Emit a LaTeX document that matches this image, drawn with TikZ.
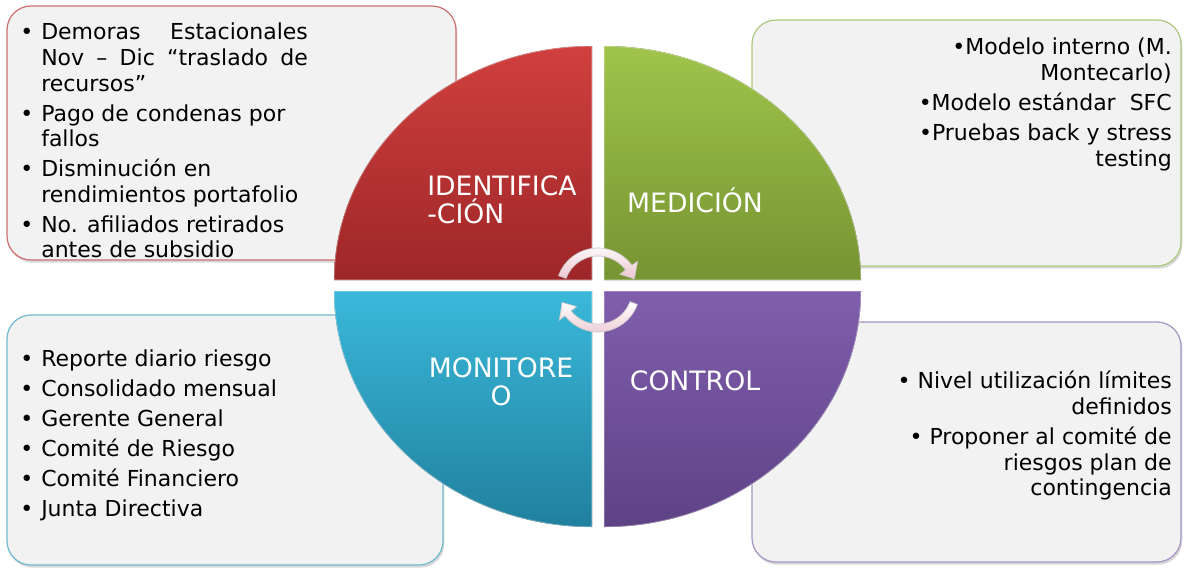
\documentclass[tikz,border=0pt]{standalone}
\usepackage{fontspec}
\setmainfont{DejaVu Sans}
\usetikzlibrary{shadows,positioning}

\definecolor{boxfill}{RGB}{242,242,242}
\definecolor{redline}{RGB}{204,112,112}
\definecolor{greenline}{RGB}{172,200,124}
\definecolor{blueline}{RGB}{112,186,206}
\definecolor{purpleline}{RGB}{166,148,196}
\definecolor{redtop}{RGB}{208,64,62}
\definecolor{redbot}{RGB}{158,38,40}
\definecolor{greentop}{RGB}{160,196,75}
\definecolor{greenbot}{RGB}{118,148,50}
\definecolor{bluetop}{RGB}{58,184,218}
\definecolor{bluebot}{RGB}{32,128,158}
\definecolor{purpletop}{RGB}{128,94,172}
\definecolor{purplebot}{RGB}{94,66,134}
\definecolor{arrowpink}{RGB}{236,198,208}

\newcommand{\itm}{\llap{\textbullet\hspace{6pt}}}

\begin{document}
\begin{tikzpicture}[x=0.75pt, y=-0.75pt,
    infobox/.style={fill=boxfill, rounded corners=18pt, line width=0.9pt,
      drop shadow={shadow xshift=1pt, shadow yshift=-2pt, opacity=0.3}},
    boxtext/.style={font=\fontsize{16.5}{19.2}\selectfont, inner sep=0pt},
    quadlabel/.style={text=white, font=\fontsize{20}{21}\selectfont, inner sep=0pt},
    quad/.style={draw=white, draw opacity=0.35, line width=1pt},
    cycarrow/.style={draw=gray!45, line width=0.5pt, top color=white, bottom color=arrowpink}]
  \useasboundingbox (0,0) rectangle (1186,571);
  \fill[white] (0,0) rectangle (1186,571);

  % boxes behind the circle
  \draw[infobox, draw=redline] (7,6) rectangle (456,260);
  \draw[infobox, draw=greenline] (752,20) rectangle (1181,266);
  \draw[infobox, draw=blueline] (7,315) rectangle (443,565);
  \draw[infobox, draw=purpleline] (752,322) rectangle (1181,562);

  % four quadrants
  \fill[quad, top color=redtop, bottom color=redbot]
    (592,280) -- (334,280) arc[start angle=180, end angle=270, x radius=258, y radius=234] -- cycle;
  \fill[quad, top color=greentop, bottom color=greenbot]
    (604,280) -- (604,46) arc[start angle=270, end angle=360, x radius=257, y radius=234] -- cycle;
  \fill[quad, top color=purpletop, bottom color=purplebot]
    (604,291) -- (861,291) arc[start angle=0, end angle=90, x radius=257, y radius=236] -- cycle;
  \fill[quad, top color=bluetop, bottom color=bluebot]
    (592,291) -- (592,527) arc[start angle=90, end angle=180, x radius=258, y radius=236] -- cycle;

  % cycle arrows
  \coordinate (cyc) at (598,290);
  \path[cycarrow] ([shift={(-160:42)}]cyc) arc[start angle=-160, end angle=-36, radius=42]
    -- ([shift={(-36:49)}]cyc) -- ([shift={(-17:38)}]cyc) -- ([shift={(-36:27)}]cyc)
    -- ([shift={(-36:34)}]cyc) arc[start angle=-36, end angle=-160, radius=34] -- cycle;
  \path[cycarrow] ([shift={(20:42)}]cyc) arc[start angle=20, end angle=142, radius=42]
    -- ([shift={(142:49)}]cyc) -- ([shift={(161:38)}]cyc) -- ([shift={(142:27)}]cyc)
    -- ([shift={(142:34)}]cyc) arc[start angle=142, end angle=20, radius=34] -- cycle;

  % labels of the quadrants
  \node[quadlabel, align=left] (ident) at (502,200) {IDENTIFICA\\-CIÓN};
  \node[quadlabel] (medic) at (695,200) {MEDICIÓN};
  \node[quadlabel, align=center] (monit) at (501,382) {MONITORE\\O};
  \node[quadlabel] (contr) at (695,381) {CONTROL};

  % texts of the boxes
  \node[boxtext, anchor=north west, align=left] (identtext) at (41,23) {%
    \itm\makebox[200pt][s]{Demoras\hfill Estacionales}\\
    \makebox[200pt][s]{Nov – Dic “traslado de}\\
    recursos”\\[3.3pt]
    \itm Pago de condenas por\\
    fallos\\[3.3pt]
    \itm Disminución en\\
    rendimientos portafolio\\[3.3pt]
    \itm No. afiliados retirados\\
    antes de subsidio};
  \node[boxtext, anchor=north east, align=right] (medictext) at (1172,38) {%
    •Modelo interno (M.\\
    Montecarlo)\\[3.3pt]
    •Modelo estándar\ \ SFC\\[3.3pt]
    •Pruebas back y stress\\
    testing};
  \node[boxtext, anchor=north west, align=left] (monittext) at (41,350) {%
    \itm Reporte diario riesgo\\[3.3pt]
    \itm Consolidado mensual\\[3.3pt]
    \itm Gerente General\\[3.3pt]
    \itm Comité de Riesgo\\[3.3pt]
    \itm Comité Financiero\\[3.3pt]
    \itm Junta Directiva};
  \node[boxtext, anchor=north east, align=right] (contrtext) at (1172,371) {%
    • Nivel utilización límites\\
    definidos\\[3.3pt]
    • Proponer al comité de\\
    riesgos plan de\\
    contingencia};
\end{tikzpicture}
\end{document}
